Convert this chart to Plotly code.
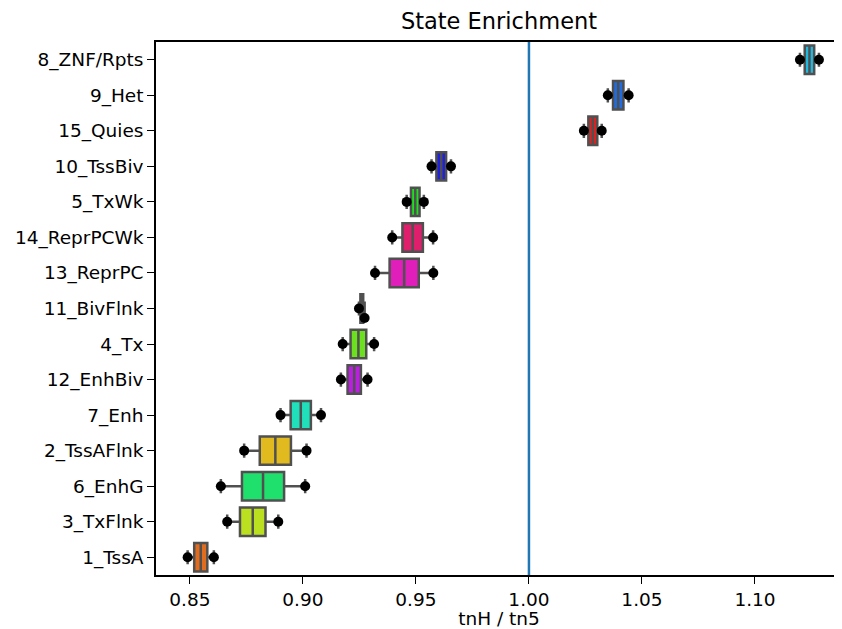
import colorsys
import math
import numpy as np
import plotly.graph_objects as go

# ---------------- data (top-to-bottom order as displayed) ----------------
categories = ["8_ZNF/Rpts", "9_Het", "15_Quies", "10_TssBiv", "5_TxWk",
              "14_ReprPCWk", "13_ReprPC", "11_BivFlnk", "4_Tx", "12_EnhBiv",
              "7_Enh", "2_TssAFlnk", "6_EnhG", "3_TxFlnk", "1_TssA"]
rep_low = [1.1199, 1.0349, 1.0243, 0.9569, 0.9459,
           0.9395, 0.9319, 0.9248, 0.9176, 0.9168,
           0.8901, 0.8740, 0.8637, 0.8665, 0.8490]
rep_high = [1.1283, 1.0441, 1.0322, 0.9655, 0.9535,
            0.9576, 0.9577, 0.9273, 0.9315, 0.9286,
            0.9080, 0.9016, 0.9010, 0.8891, 0.8606]
x_ticks = [0.85, 0.90, 0.95, 1.00, 1.05, 1.10]
ref_value = 1.0

# ---------------- layout constants ----------------
BODY = 8                      # default page body margin
W, H = 842 - BODY, 629 - BODY
M_L, M_R, M_T, M_B = 156 - BODY, 0, 42 - BODY, 629 - 575
X_RANGE = [0.835, 1.1385]
N = len(categories)
Y_RANGE = [N - 0.5, -0.5]
FONT = "DejaVu Sans"
EDGE = "#505050"
DOT = 10
SWARM_D = 11  # px spacing for swarm dots


def state_color(name):
    k = int(name.split("_")[0])
    h = (k * 24 % 360) / 360.0
    r, g, b = colorsys.hls_to_rgb(h, 0.5, 0.76)
    return "rgb(%d,%d,%d)" % (round(r * 255), round(g * 255), round(b * 255))


px_per_x = (W - M_L - M_R) / (X_RANGE[1] - X_RANGE[0])
px_per_y = (H - M_T - M_B) / N

fig = go.Figure()

dot_x, dot_y = [], []
for i, cat in enumerate(categories):
    vals = np.array([rep_low[i], rep_high[i]])
    q1, med, q3 = np.percentile(vals, [25, 50, 75])
    fig.add_trace(go.Box(
        y=[i], q1=[q1], median=[med], q3=[q3],
        lowerfence=[vals.min()], upperfence=[vals.max()],
        orientation="h", width=0.8,
        boxpoints=False, fillcolor=state_color(cat),
        line=dict(color=EDGE, width=2.5), whiskerwidth=0.5,
        showlegend=False, hoverinfo="skip",
    ))
    # simple swarm placement: offset overlapping points
    placed = []
    for v in sorted(vals):
        off = 0.0
        for (pv, po) in placed:
            dx = abs(v - pv) * px_per_x
            if dx < SWARM_D:
                off = max(off, po * px_per_y + math.sqrt(SWARM_D ** 2 - dx ** 2))
        placed.append((v, off / px_per_y))
        dot_x.append(float(v))
        dot_y.append(i + off / px_per_y)

fig.add_trace(go.Scatter(
    x=dot_x, y=dot_y, mode="markers",
    marker=dict(color="black", size=DOT, line=dict(width=0)),
    showlegend=False, hoverinfo="skip",
))

fig.add_shape(type="line", x0=ref_value, x1=ref_value, xref="x",
              y0=0, y1=1, yref="paper",
              line=dict(color="#1f77b4", width=2.5), layer="above")

fig.update_layout(
    width=W, height=H,
    margin=dict(l=M_L, r=M_R, t=M_T, b=M_B, pad=0),
    paper_bgcolor="white", plot_bgcolor="white",
    boxmode="overlay",
    font=dict(family=FONT, size=18.5, color="black"),
    title=dict(text="State Enrichment", x=0.5, xref="paper", xanchor="center",
               y=1 - (21 - BODY) / H, yref="container", yanchor="middle",
               font=dict(family=FONT, size=22.5, color="black")),
    xaxis=dict(range=X_RANGE, tickvals=x_ticks,
               ticktext=["%.2f" % t for t in x_ticks],
               showgrid=False, zeroline=False,
               showline=True, linecolor="black", linewidth=1.6, mirror=True,
               ticks="outside", ticklen=7, tickwidth=1.4, tickcolor="black",
               tickfont=dict(family=FONT, size=18.5, color="black"),
               title=dict(text="tnH / tn5", standoff=3,
                          font=dict(family=FONT, size=18.5, color="black"))),
    yaxis=dict(range=Y_RANGE, tickvals=list(range(N)), ticktext=categories,
               showgrid=False, zeroline=False,
               showline=True, linecolor="black", linewidth=1.6, mirror=False,
               ticks="outside", ticklen=7, tickwidth=1.4, tickcolor="black",
               tickfont=dict(family=FONT, size=18.5, color="black")),
)

fig.write_html("out.html")
